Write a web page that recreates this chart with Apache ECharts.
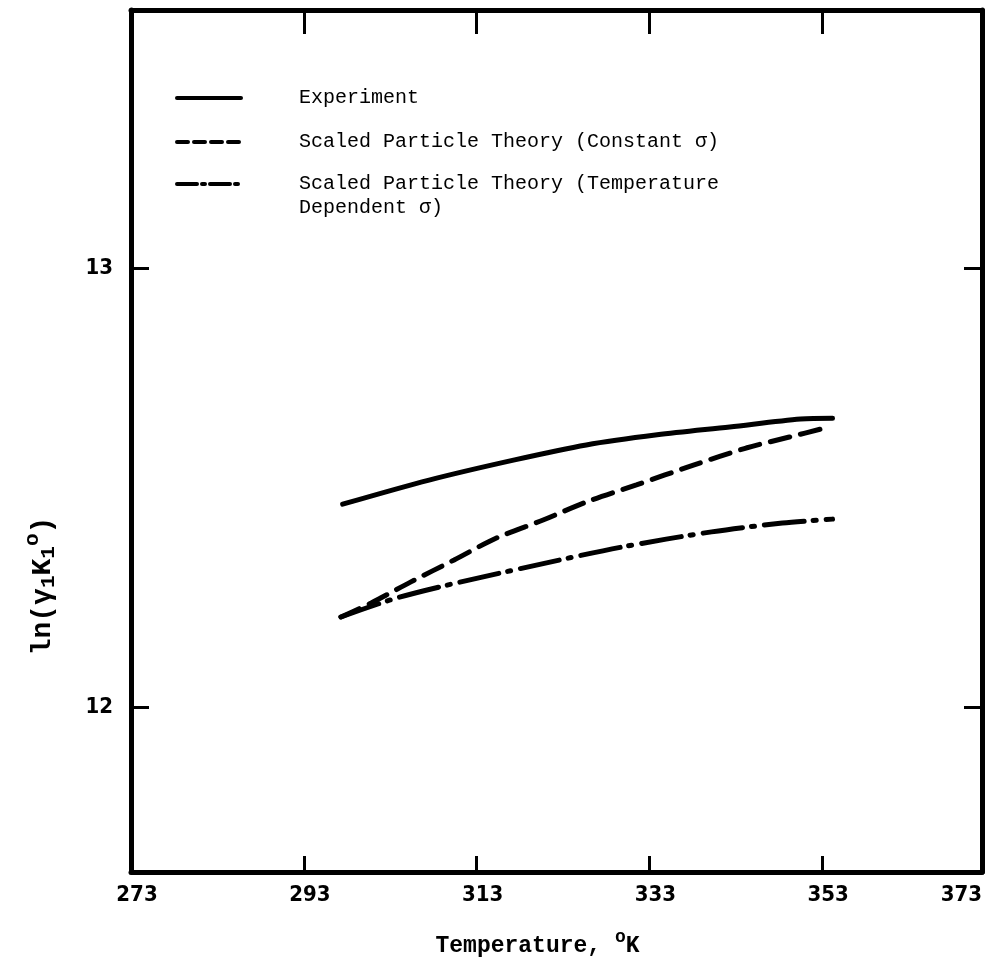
<!DOCTYPE html>
<html>
<head>
<meta charset="utf-8">
<script src="https://cdn.jsdelivr.net/npm/echarts@6/dist/echarts.min.js"></script>
<style>
html, body { margin: 0; padding: 0; background: #fff; }
#chart { width: 994px; height: 961px; }
</style>
</head>
<body>
<div id="chart"></div>
<script>
// values
const expT = [297.5, 307.5, 317.4, 325.7, 333.9, 342.3, 350.5, 354.2];
const expY = [12.462, 12.517, 12.563, 12.597, 12.620, 12.638, 12.656, 12.658];

const constT = [297.3, 300.8, 305.4, 310.4, 315.3, 320.7, 325.7, 331.5, 338.1, 344.2, 349.2, 353.4];
const constY = [12.205, 12.237, 12.285, 12.335, 12.385, 12.426, 12.467, 12.506, 12.551, 12.590, 12.615, 12.636];

const tempT = [297.3, 303.7, 311.2, 321.5, 329.7, 340.2, 348.4, 354.2];
const tempY = [12.205, 12.248, 12.285, 12.330, 12.364, 12.399, 12.419, 12.428];

const xTickAt = [293, 313, 333, 353];
const xLabelAt = [273, 293, 313, 333, 353, 371.5];
const xTickLabels = ['273', '293', '313', '333', '353', '373'];
const yTickAt = [12, 13];

const seriesNames = [
    'Experiment',
    'Scaled Particle Theory (Constant σ)',
    'Scaled Particle Theory (Temperature\nDependent σ)'
];

const X_MIN = 273, X_MAX = 371.5;
const Y_MIN = 11.624, Y_MAX = 13.588;

const pairs = (xs, ys) => xs.map((x, i) => [x, ys[i]]);

const chart = echarts.init(document.getElementById('chart'));

const frameLine = { show: true, onZero: false, lineStyle: { color: '#000', width: 5 } };
const tickFont = { color: '#000', fontFamily: 'DejaVu Sans Condensed', fontWeight: 'bold', fontSize: 22 };

// one legend per entry so each row can sit where it does in the figure
function legendRow(name, top, dash, blankLineAbove) {
    return {
        orient: 'vertical',
        left: 170,
        top: top,
        itemWidth: 64,
        itemHeight: 14,
        itemStyle: { opacity: 0 },
        lineStyle: { width: 4, type: dash, cap: 'round' },
        data: [name],
        // empty first line keeps the icon level with the first text line
        formatter: n => (blankLineAbove ? ' \n' : '') + n,
        textStyle: {
            fontFamily: 'Liberation Mono',
            fontSize: 20,
            color: '#000',
            lineHeight: 24,
            padding: [0, 0, 0, 53]
        }
    };
}

chart.setOption({
    animation: false,
    backgroundColor: '#fff',
    grid: { left: 131, right: 12, top: 10, bottom: 89, outerBoundsMode: 'none' },
    legend: [
        legendRow(seriesNames[0], 81, 'solid', false),
        legendRow(seriesNames[1], 125, [11, 6], false),
        legendRow(seriesNames[2], 143, [20, 5, 3, 5], true)
    ],
    xAxis: [{
        type: 'value',
        position: 'bottom',
        min: X_MIN,
        max: X_MAX,
        name: 'Temperature, {sup|o}K',
        nameLocation: 'middle',
        nameGap: 56,
        nameTextStyle: {
            fontFamily: 'Liberation Mono',
            fontWeight: 'bold',
            fontSize: 23,
            color: '#000',
            padding: [0, 38, 0, 0],
            rich: {
                sup: { fontFamily: 'Liberation Mono', fontWeight: 'bold', fontSize: 18, padding: [0, 0, 18, 0], color: '#000' }
            }
        },
        axisLine: frameLine,
        axisTick: { show: true, inside: true, length: 16, customValues: xTickAt, lineStyle: { color: '#000', width: 3 } },
        axisLabel: {
            customValues: xLabelAt,
            margin: 12,
            alignMaxLabel: 'right',
            padding: [0, 0, 0, 12],
            formatter: v => xTickLabels[xLabelAt.indexOf(v)],
            ...tickFont
        },
        splitLine: { show: false }
    }, {
        type: 'value',
        position: 'top',
        min: X_MIN,
        max: X_MAX,
        axisLine: frameLine,
        axisTick: { show: true, inside: true, length: 24, customValues: xTickAt, lineStyle: { color: '#000', width: 3 } },
        axisLabel: { show: false },
        splitLine: { show: false }
    }],
    yAxis: [{
        type: 'value',
        position: 'left',
        min: Y_MIN,
        max: Y_MAX,
        name: 'ln(γ{sub|1}K{sub|1}{sup|o})',
        nameLocation: 'middle',
        nameGap: 68,
        nameRotate: 90,
        nameTextStyle: {
            fontFamily: 'Liberation Mono',
            fontWeight: 'bold',
            fontSize: 28,
            color: '#000',
            padding: [0, 290, 0, 0],
            rich: {
                sub: { fontFamily: 'Liberation Mono', fontWeight: 'bold', fontSize: 21, padding: [12, 0, 0, 0], color: '#000' },
                sup: { fontFamily: 'Liberation Mono', fontWeight: 'bold', fontSize: 21, padding: [0, 0, 20, 0], color: '#000' }
            }
        },
        axisLine: frameLine,
        axisTick: { show: true, inside: true, length: 18, customValues: yTickAt, lineStyle: { color: '#000', width: 3 } },
        axisLabel: { customValues: yTickAt, margin: 18, ...tickFont },
        splitLine: { show: false }
    }, {
        type: 'value',
        position: 'right',
        min: Y_MIN,
        max: Y_MAX,
        axisLine: frameLine,
        axisTick: { show: true, inside: true, length: 18, customValues: yTickAt, lineStyle: { color: '#000', width: 3 } },
        axisLabel: { show: false },
        splitLine: { show: false }
    }],
    series: [{
        name: seriesNames[0],
        type: 'line',
        smooth: 0.3,
        symbol: 'none',
        data: pairs(expT, expY),
        lineStyle: { color: '#000', width: 5, cap: 'round' },
        itemStyle: { color: '#000' }
    }, {
        name: seriesNames[1],
        type: 'line',
        smooth: 0.3,
        symbol: 'none',
        data: pairs(constT, constY),
        lineStyle: { color: '#000', width: 5, type: [20, 11], cap: 'round' },
        itemStyle: { color: '#000' }
    }, {
        name: seriesNames[2],
        type: 'line',
        smooth: 0.3,
        symbol: 'none',
        data: pairs(tempT, tempY),
        lineStyle: { color: '#000', width: 5, type: [40, 9, 3, 10], cap: 'round' },
        itemStyle: { color: '#000' }
    }]
});
</script>
</body>
</html>
